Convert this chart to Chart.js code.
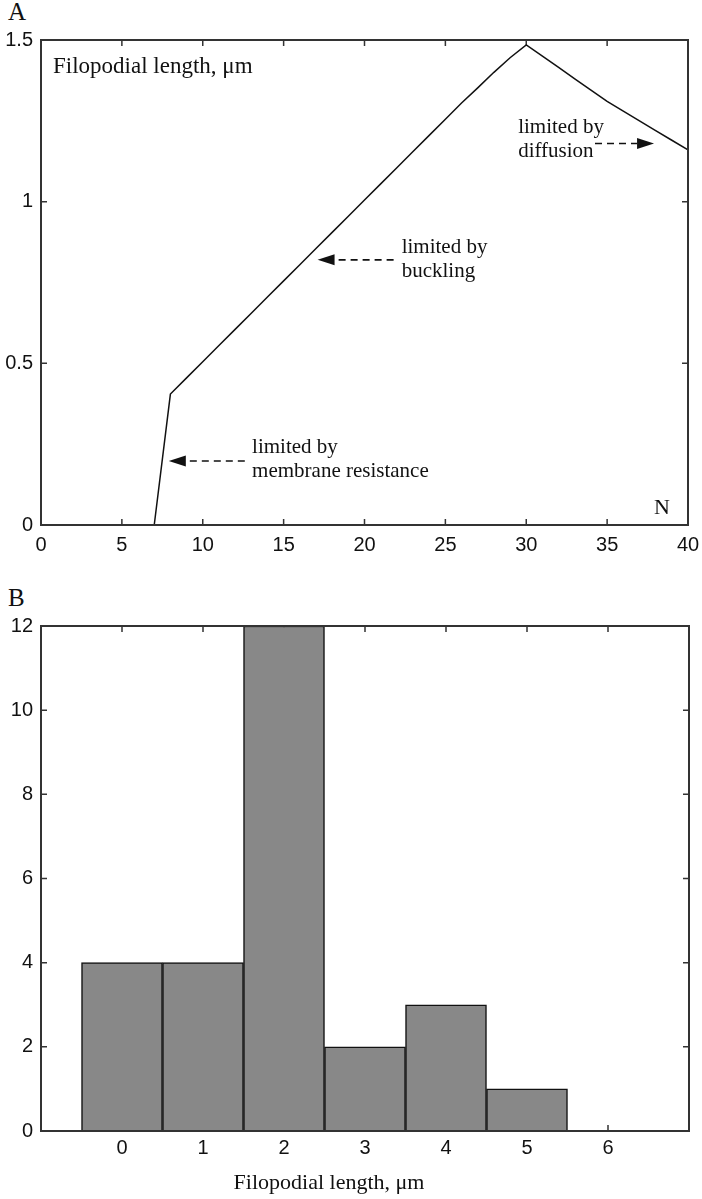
<!DOCTYPE html>
<html>
<head>
    <meta charset="utf-8">
    <title>Filopodial length</title>
    <script src="https://cdn.jsdelivr.net/npm/chart.js"></script>
    <style>
        body { margin: 0; background: #fff; width: 702px; height: 1199px; position: relative; overflow: hidden; }
        .panel { position: absolute; left: 0; width: 702px; }
        .letra { position: absolute; font-family: "Liberation Serif", serif; font-size: 25px; color: #111; }
    </style>
</head>
<body>
    <div class="letra" style="left:8px; top:-2px;">A</div>
    <div class="panel" style="top:0; height:580px;"><canvas id="graficaA"></canvas></div>
    <div class="letra" style="left:8px; top:584px;">B</div>
    <div class="panel" style="top:580px; height:619px;"><canvas id="graficaB"></canvas></div>
    <script>
        // Panel A: filopodial length vs number of filaments N
        const valoresN = [0, 1, 2, 3, 4, 5, 6, 7, 8, 9, 10, 11, 12, 13, 14, 15, 16, 17, 18, 19, 20,
                          21, 22, 23, 24, 25, 26, 27, 28, 29, 30, 31, 32, 33, 34, 35, 36, 37, 38, 39, 40];
        const longitudes = [0, 0, 0, 0, 0, 0, 0, 0, 0.405, 0.455, 0.505, 0.555, 0.605, 0.655, 0.705, 0.755,
                            0.805, 0.855, 0.905, 0.955, 1.005, 1.055, 1.105, 1.155, 1.205, 1.255, 1.305,
                            1.352, 1.40, 1.445, 1.485, 1.45, 1.415, 1.38, 1.345, 1.31, 1.28, 1.25, 1.22, 1.19, 1.16];

        // Panel B: histogram of filopodial lengths
        const clases = [0, 1, 2, 3, 4, 5, 6];
        const conteos = [4, 4, 12, 2, 3, 1, 0];

        // annotation texts (first line, second line)
        const notas = [
            { lineas: ['limited by', 'membrane resistance'], n: 13.05, texto: 0.223, flecha: 0.198, desde: 12.6, hasta: 7.9 },
            { lineas: ['limited by', 'buckling'], n: 22.3, texto: 0.841, flecha: 0.82, desde: 21.8, hasta: 17.1 },
            { lineas: ['limited by', 'diffusion'], n: 29.5, texto: 1.2125, flecha: 1.18, desde: 34.25, hasta: 37.9 }
        ];

        const fuenteEje = { family: 'Liberation Sans, Arial, sans-serif', size: 20 };
        const serif = '"Liberation Serif", "Times New Roman", serif';
        const colorEje = '#333';

        // box around the plot area + inward ticks on all four sides
        const marco = {
            id: 'marco',
            beforeDatasetsDraw(chart) {
                const ctx = chart.ctx, a = chart.chartArea;
                const x = chart.scales.x, y = chart.scales.y;
                ctx.save();
                ctx.strokeStyle = colorEje;
                ctx.lineWidth = 1.5;
                ctx.beginPath();
                x.ticks.forEach(t => {
                    if (t.value <= x.min || t.value >= x.max) return;
                    const px = x.getPixelForValue(t.value);
                    ctx.moveTo(px, a.bottom); ctx.lineTo(px, a.bottom - 6);
                    ctx.moveTo(px, a.top); ctx.lineTo(px, a.top + 6);
                });
                y.ticks.forEach(t => {
                    if (t.value <= y.min || t.value >= y.max) return;
                    const py = y.getPixelForValue(t.value);
                    ctx.moveTo(a.left, py); ctx.lineTo(a.left + 6, py);
                    ctx.moveTo(a.right, py); ctx.lineTo(a.right - 6, py);
                });
                ctx.stroke();
                ctx.restore();
            },
            afterDatasetsDraw(chart) {
                const ctx = chart.ctx, a = chart.chartArea;
                ctx.save();
                ctx.strokeStyle = colorEje;
                ctx.lineWidth = 2;
                ctx.strokeRect(a.left, a.top, a.right - a.left, a.bottom - a.top);
                ctx.restore();
            }
        };

        function flechaDiscontinua(ctx, x1, y, x2) {
            const dir = x2 > x1 ? 1 : -1;
            const base = x2 - dir * 17;
            ctx.save();
            ctx.strokeStyle = '#111';
            ctx.fillStyle = '#111';
            ctx.lineWidth = 1.6;
            ctx.setLineDash([7, 5]);
            ctx.beginPath();
            ctx.moveTo(x1, y);
            ctx.lineTo(base, y);
            ctx.stroke();
            ctx.setLineDash([]);
            ctx.beginPath();
            ctx.moveTo(x2, y);
            ctx.lineTo(base, y - 5.5);
            ctx.lineTo(base, y + 5.5);
            ctx.closePath();
            ctx.fill();
            ctx.restore();
        }

        const textosA = {
            id: 'textosA',
            afterDraw(chart) {
                const ctx = chart.ctx, a = chart.chartArea;
                const x = chart.scales.x, y = chart.scales.y;
                ctx.save();
                ctx.fillStyle = '#111';
                ctx.font = '23px ' + serif;
                ctx.textBaseline = 'alphabetic';
                ctx.textAlign = 'left';
                ctx.fillText('Filopodial length, \u03bcm', a.left + 12, a.top + 33);
                ctx.font = '22px ' + serif;
                ctx.fillText('N', a.right - 34, a.bottom - 11);
                ctx.font = '21px ' + serif;
                notas.forEach(n => {
                    const tx = x.getPixelForValue(n.n);
                    const ty = y.getPixelForValue(n.texto);
                    ctx.fillText(n.lineas[0], tx, ty);
                    ctx.fillText(n.lineas[1], tx, ty + 24);
                    flechaDiscontinua(ctx, x.getPixelForValue(n.desde), y.getPixelForValue(n.flecha), x.getPixelForValue(n.hasta));
                });
                ctx.restore();
            }
        };

        // x-axis title of panel B, sits a little left of the plot centre as in the figure
        const tituloB = {
            id: 'tituloB',
            afterDraw(chart) {
                const ctx = chart.ctx, a = chart.chartArea;
                ctx.save();
                ctx.fillStyle = '#111';
                ctx.font = '22px ' + serif;
                ctx.textAlign = 'center';
                ctx.textBaseline = 'middle';
                ctx.fillText('Filopodial length, \u03bcm', (a.left + a.right) / 2 - 36, a.bottom + 52);
                ctx.restore();
            }
        };

        new Chart(document.getElementById('graficaA'), {
            type: 'line',
            data: {
                labels: valoresN,
                datasets: [{
                    data: valoresN.map((n, i) => ({ x: n, y: longitudes[i] })),
                    borderColor: '#111',
                    borderWidth: 1.5,
                    pointRadius: 0,
                    tension: 0
                }]
            },
            options: {
                responsive: true,
                maintainAspectRatio: false,
                animation: false,
                layout: { padding: { top: 40, right: 14, left: 0, bottom: 0 } },
                plugins: { legend: { display: false }, tooltip: { enabled: false } },
                scales: {
                    x: {
                        type: 'linear', min: 0, max: 40,
                        grid: { display: false, drawTicks: false },
                        border: { display: false },
                        ticks: { stepSize: 5, color: '#111', font: fuenteEje, padding: 8, maxRotation: 0 },
                        afterFit(s) { s.height = 55; s.paddingRight = 0; s.paddingLeft = 0; }
                    },
                    y: {
                        min: 0, max: 1.5,
                        grid: { display: false, drawTicks: false },
                        border: { display: false },
                        ticks: { stepSize: 0.5, color: '#111', font: fuenteEje, padding: 8, callback: v => String(v) },
                        afterFit(s) { s.width = 41; }
                    }
                }
            },
            plugins: [marco, textosA]
        });

        new Chart(document.getElementById('graficaB'), {
            type: 'bar',
            data: {
                datasets: [{
                    data: clases.map((c, i) => ({ x: c, y: conteos[i] })),
                    backgroundColor: '#888888',
                    borderColor: '#111',
                    borderWidth: ctx => (conteos[ctx.dataIndex] > 0 ? 1.5 : 0),
                    borderSkipped: 'bottom',
                    barPercentage: 1,
                    categoryPercentage: 1
                }]
            },
            options: {
                responsive: true,
                maintainAspectRatio: false,
                animation: false,
                layout: { padding: { top: 46, right: 13, left: 0, bottom: 0 } },
                plugins: { legend: { display: false }, tooltip: { enabled: false } },
                scales: {
                    x: {
                        type: 'linear', min: -1, max: 7, offset: false,
                        grid: { display: false, drawTicks: false },
                        border: { display: false },
                        ticks: {
                            stepSize: 1, color: '#111', font: fuenteEje, padding: 5, maxRotation: 0,
                            callback: v => (v < 0 || v > 6 ? '' : v)
                        },
                        afterFit(s) { s.height = 68; }
                    },
                    y: {
                        min: 0, max: 12,
                        grid: { display: false, drawTicks: false },
                        border: { display: false },
                        ticks: { stepSize: 2, color: '#111', font: fuenteEje, padding: 8 },
                        afterFit(s) { s.width = 41; }
                    }
                }
            },
            plugins: [marco, tituloB]
        });
    </script>
</body>
</html>
